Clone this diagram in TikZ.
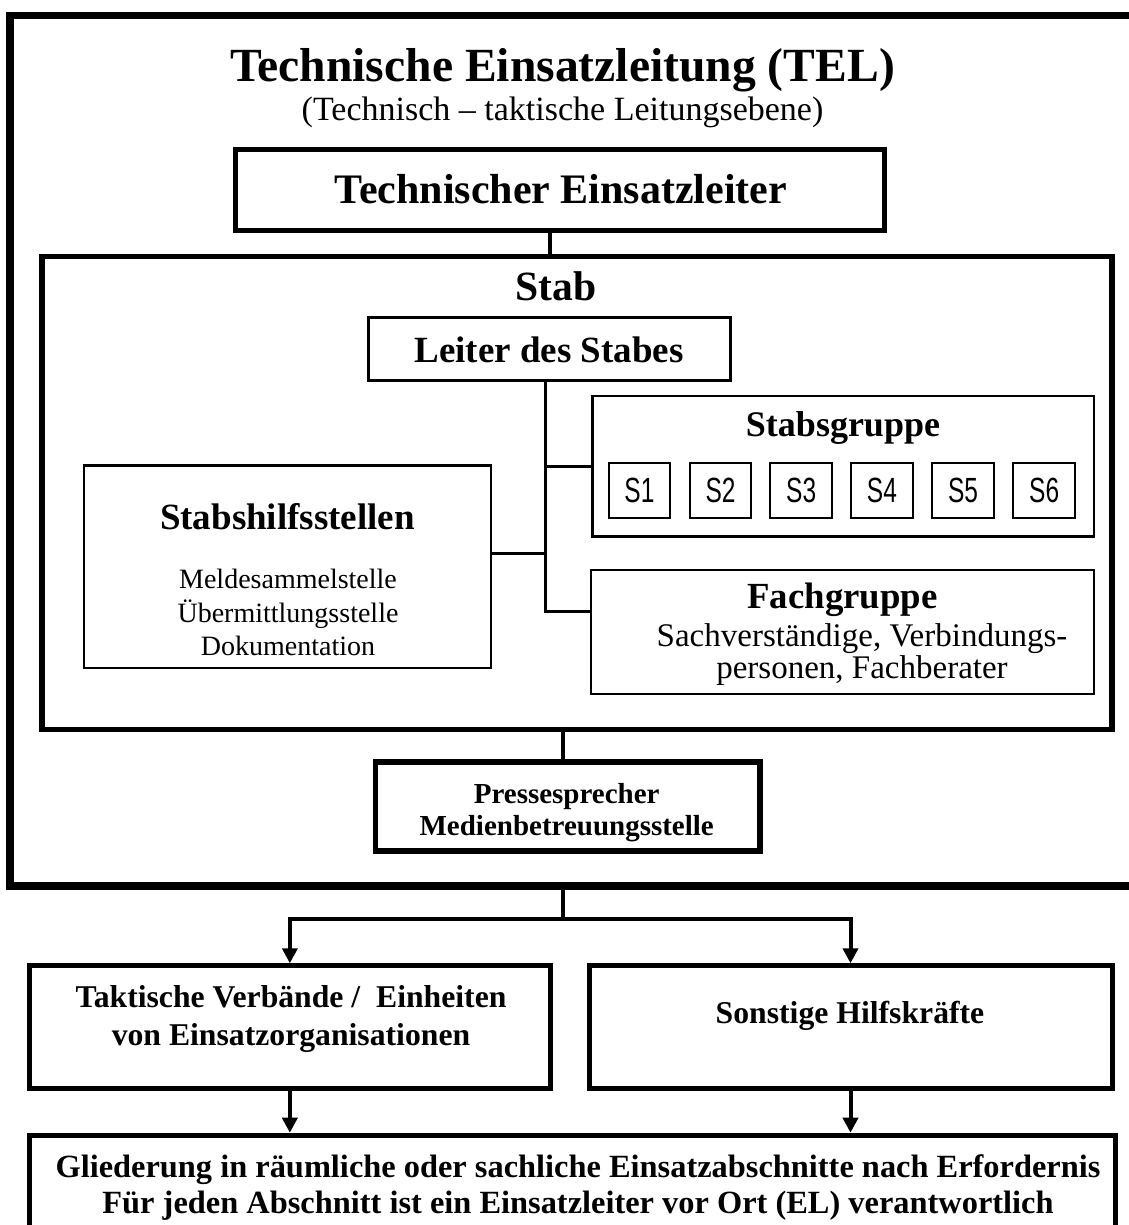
\documentclass[tikz,border=0pt]{standalone}
\usepackage{fontspec}
\setmainfont{Liberation Serif}
\newfontfamily\arialfont{Liberation Sans}
\usetikzlibrary{arrows.meta,calc}

\begin{document}
\begin{tikzpicture}[x=1pt,y=-1pt,
  heavybox/.style={draw,rectangle,inner sep=0pt,line width=5pt},
  lightbox/.style={draw,rectangle,inner sep=0pt,line width=2.5pt},
  sbox/.style={draw,rectangle,inner sep=0pt,line width=2pt,
    minimum width=61.5pt,minimum height=55.6pt,
    font=\arialfont\fontsize{35pt}{35pt}\selectfont},
  lbl/.style={anchor=base,inner sep=0pt},
  conn/.style={line width=4pt},
  thinconn/.style={line width=3pt},
  flow/.style={line width=4pt,-{Triangle[length=15pt,width=15pt]}},
  fnt/.style={font=\fontsize{#1pt}{#1pt}\selectfont},
  bfnt/.style={font=\fontsize{#1pt}{#1pt}\selectfont\bfseries}
]
\useasboundingbox (0,0) rectangle (1128,1225);

% open outer frame of the TEL
\draw[line width=7.5pt,line join=miter] (1140,15.5) -- (10,15.5) -- (10,886) -- (1140,886);
\node[lbl,bfnt=47.6] (title) at (562.5,82) {Technische Einsatzleitung (TEL)};
\node[lbl,fnt=34] (subtitle) at (562.5,121) {(Technisch -- taktische Leitungsebene)};

% head
\node[heavybox,minimum width=649pt,minimum height=81pt] (tel) at (559.5,190) {};
\node[lbl,bfnt=42] (teltext) at (561,204) {Technischer Einsatzleiter};

% staff frame
\node[heavybox,line width=5.5pt,minimum width=1070pt,minimum height=473pt] (stab) at (577,493) {};
\node[lbl,bfnt=41.6] (stabtext) at (556,300) {Stab};

\node[lightbox,minimum width=362pt,minimum height=63pt] (leiter) at (549.5,349) {};
\node[lbl,bfnt=37] (leitertext) at (549,362) {Leiter des Stabes};

% Stabsgruppe with S1 ... S6
\node[lightbox,minimum width=501.5pt,minimum height=140.7pt] (sgruppe) at (843.25,466.3) {};
\node[lbl,bfnt=36] (sgtext) at (843,436) {Stabsgruppe};
\foreach \i/\sx in {1/639.4,2/720.5,3/801.2,4/881.9,5/963,6/1044.2}
  \node[sbox] (s\i) at (\sx,490.5) {\scalebox{0.7}[1]{S\i}};

% Stabshilfsstellen
\node[lightbox,minimum width=407pt,minimum height=202.5pt] (hilfs) at (287.5,566.75) {};
\node[lbl,bfnt=37] (hilfstext) at (287.5,529) {Stabshilfsstellen};
\node[lbl,fnt=28] (hilfs1) at (288,588.3) {Meldesammelstelle};
\node[lbl,fnt=28] (hilfs2) at (288,622.7) {Übermittlungsstelle};
\node[lbl,fnt=28] (hilfs3) at (288,655) {Dokumentation};

% Fachgruppe
\node[lightbox,minimum width=503pt,minimum height=124pt] (fach) at (842.5,632) {};
\node[lbl,bfnt=36.8] (fachtext) at (842.5,608) {Fachgruppe};
\node[lbl,fnt=33] (fach1) at (862,646.7) {Sachverständige, Verbindungs-};
\node[lbl,fnt=33] (fach2) at (862,678.3) {personen, Fachberater};

% press office
\node[heavybox,line width=5.5pt,minimum width=384.5pt,minimum height=89pt] (presse) at (567.75,806.5) {};
\node[lbl,bfnt=29] (presse1) at (566.7,803) {Pressesprecher};
\node[lbl,bfnt=29] (presse2) at (566.7,835) {Medienbetreuungsstelle};

% forces below the TEL
\node[heavybox,minimum width=520.3pt,minimum height=122.2pt] (takt) at (289.85,1026.9) {};
\node[lbl,bfnt=31.7] (takt1) at (291,1007) {Taktische Verbände /\ \ Einheiten};
\node[lbl,bfnt=31.7] (takt2) at (291,1045) {von Einsatzorganisationen};

\node[heavybox,minimum width=523pt,minimum height=122.2pt] (sonst) at (850.5,1026.9) {};
\node[lbl,bfnt=31.7] (sonsttext) at (850,1023) {Sonstige Hilfskräfte};

\node[heavybox,minimum width=1086pt,minimum height=100pt] (glied) at (572.2,1185.2) {};
\node[lbl,bfnt=32.4] (glied1) at (578,1177) {Gliederung in räumliche oder sachliche Einsatzabschnitte nach Erfordernis};
\node[lbl,bfnt=32.4] (glied2) at (578,1213) {Für jeden Abschnitt ist ein Einsatzleiter vor Ort (EL) verantwortlich};

% connectors inside the TEL
\draw[conn] (tel.south -| leiter.north) -- (leiter.north |- stab.north);

\coordinate (spine) at ($(leiter.south)+(-4,0)$);
\coordinate (hj) at ($(hilfs.north east)!0.434!(hilfs.south east)$);
\coordinate (fj) at ($(fach.north west)!0.335!(fach.south west)$);
\draw[thinconn] (spine) -- (spine |- fj) -- (fj);
\draw[thinconn] (spine |- sgruppe.west) -- (sgruppe.west);
\draw[thinconn] (hj) -- (spine |- hj);

\coordinate (ptop) at ($(presse.north)+(-4.5,0)$);
\draw[conn] (ptop) -- (ptop |- stab.south);

% distribution to the forces
\coordinate (framebot) at (563,886);
\coordinate (split) at (563,919);
\draw[conn] (framebot) -- (split);
\draw[flow] (split) -| (takt.north);
\draw[flow] (split) -| (sonst.north);
\draw[flow] (takt.south) -- (takt.south |- glied.north);
\draw[flow] (sonst.south) -- (sonst.south |- glied.north);
\end{tikzpicture}
\end{document}
